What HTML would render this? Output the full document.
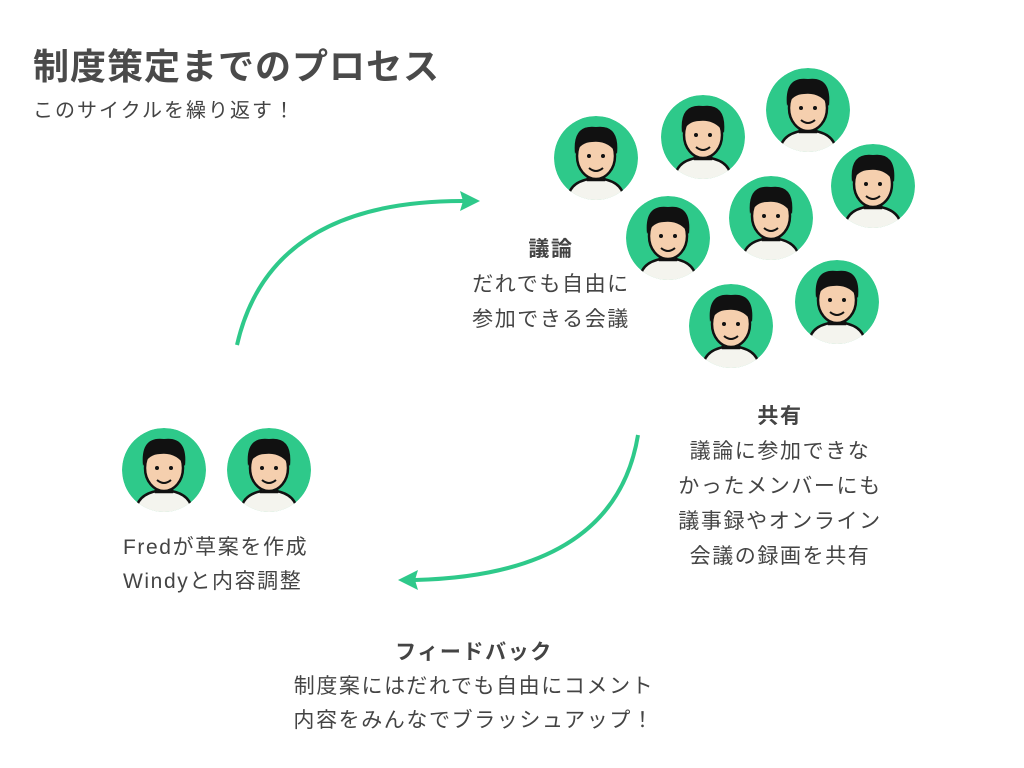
<!DOCTYPE html>
<html><head><meta charset="utf-8"><style>
body{margin:0;width:1024px;height:768px;background:#fff;position:relative;overflow:hidden;font-family:"Liberation Sans","Noto Sans CJK JP",sans-serif;color:#444}
.t{position:absolute;white-space:nowrap}
.c{text-align:center;transform:translateX(-50%)}
.p{font-size:21px;line-height:35px;letter-spacing:1.6px}
</style></head><body>
<div class="t" style="left:33px;top:38px;font-size:36px;font-weight:bold;color:#4a4a4a;letter-spacing:1px">制度策定までのプロセス</div>
<div class="t" style="left:33px;top:94px;font-size:20px;letter-spacing:2px">このサイクルを繰り返す！</div>
<div class="t c p" style="left:551px;top:232px"><b>議論</b><br>だれでも自由に<br>参加できる会議</div>
<div class="t c p" style="left:780px;top:399px"><b>共有</b><br>議論に参加できな<br>かったメンバーにも<br>議事録やオンライン<br>会議の録画を共有</div>
<div class="t p" style="left:123px;top:531px;line-height:34px">Fredが草案を作成<br>Windyと内容調整</div>
<div class="t c p" style="left:474px;top:636px;line-height:34px"><b>フィードバック</b><br>制度案にはだれでも自由にコメント<br>内容をみんなでブラッシュアップ！</div>
<svg width="1024" height="768" style="position:absolute;left:0;top:0">
<defs>
<g id="av">
<circle r="42" fill="#2ec98a"/>
<path d="M-28 40 Q-26 22 0 20 Q26 22 28 40 Q0 50 -28 40Z" fill="#f4f4ee" stroke="#111" stroke-width="2.5"/>
<rect x="-8" y="8" width="16" height="14" fill="#f5cfae" stroke="#111" stroke-width="2.5"/>
<ellipse cx="0" cy="-2" rx="19" ry="23" fill="#f5cfae" stroke="#111" stroke-width="2.5"/>
<path d="M-21 -4 Q-24 -34 0 -31 Q24 -34 21 -4 Q12 -18 -4 -16 Q-15 -16 -21 -4Z" fill="#111"/>
<circle cx="-7" cy="-2" r="2" fill="#111"/><circle cx="7" cy="-2" r="2" fill="#111"/>
<path d="M-7 10 Q0 16 7 10" stroke="#111" stroke-width="2" fill="none"/>
</g>
<clipPath id="cc"><circle r="42"/></clipPath>
</defs>
<g transform="translate(596,158)"><g clip-path="url(#cc)"><use href="#av"/></g></g>
<g transform="translate(703,137)"><g clip-path="url(#cc)"><use href="#av"/></g></g>
<g transform="translate(808,110)"><g clip-path="url(#cc)"><use href="#av"/></g></g>
<g transform="translate(873,186)"><g clip-path="url(#cc)"><use href="#av"/></g></g>
<g transform="translate(771,218)"><g clip-path="url(#cc)"><use href="#av"/></g></g>
<g transform="translate(668,238)"><g clip-path="url(#cc)"><use href="#av"/></g></g>
<g transform="translate(837,302)"><g clip-path="url(#cc)"><use href="#av"/></g></g>
<g transform="translate(731,326)"><g clip-path="url(#cc)"><use href="#av"/></g></g>
<g transform="translate(164,470)"><g clip-path="url(#cc)"><use href="#av"/></g></g>
<g transform="translate(269,470)"><g clip-path="url(#cc)"><use href="#av"/></g></g>
<path d="M237 345 Q270 200 465 201" stroke="#2ec98a" stroke-width="4" fill="none"/>
<path d="M480 201 L460 191 L463 201 L460 211Z" fill="#2ec98a"/>
<path d="M638 435 Q615 575 415 580" stroke="#2ec98a" stroke-width="4" fill="none"/>
<path d="M398 580 L418 570 L415 580 L418 590Z" fill="#2ec98a"/>
</svg>
</body></html>
